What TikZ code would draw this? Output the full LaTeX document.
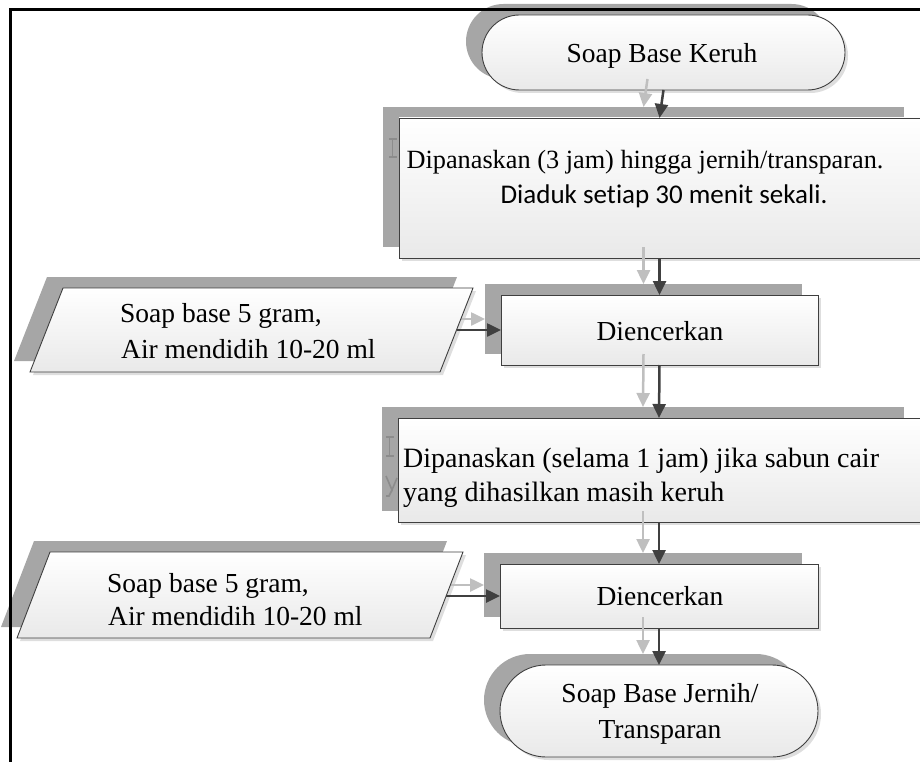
\documentclass[tikz,border=0pt]{standalone}
\usepackage{fontspec}
\setmainfont{Liberation Serif}
\newfontfamily\calibrifont[Ligatures=NoCommon]{Carlito}
\usetikzlibrary{arrows.meta,shapes.misc,calc}
\definecolor{edgec}{HTML}{3F3F3F}
\definecolor{fillbot}{HTML}{E9E9E9}
\definecolor{shadowc}{HTML}{A6A6A6}
\definecolor{glowc}{HTML}{DEDEDE}
\definecolor{arrowc}{HTML}{404040}
\definecolor{sarrowc}{HTML}{BFBFBF}
\definecolor{ghostc}{HTML}{8C8C8C}
\begin{document}
\begin{tikzpicture}[x=1pt,y=-1pt,
  base/.style={inner sep=0pt, outer sep=0pt, line width=0.9pt},
  mainfill/.style={base, draw=edgec, top color=white, bottom color=fillbot},
  shadowfill/.style={base, fill=shadowc, draw=none},
  glowfill/.style={base, fill=glowc, draw=none},
  procbox/.style={rectangle},
  termbox/.style={rounded rectangle},
  arr/.style={draw=arrowc, line width=2.5pt, -{Triangle[length=14pt,width=13pt]}},
  sarr/.style={arr, draw=sarrowc},
  txt/.style={font=\fontsize{27.5}{33}\selectfont, inner sep=0pt, text=black},
  ghoststroke/.style={draw=ghostc, line width=1.6pt},
  framel/.style={line width=3pt, draw=black}
]
\useasboundingbox (0,0) rectangle (920,762);
\clip (0,0) rectangle (920,762);

% ---------- glow layer ----------
\node[glowfill,termbox,minimum width=363pt,minimum height=75pt] at (666.5,55.5) {};
\node[glowfill,procbox,minimum width=521pt,minimum height=140pt] at (662.5,191) {};
\node[glowfill,procbox,minimum width=317pt,minimum height=70pt] at (662.5,333) {};
\node[glowfill,procbox,minimum width=522pt,minimum height=104pt] at (662,473) {};
\node[glowfill,procbox,minimum width=318pt,minimum height=64pt] at (662,599) {};
\node[glowfill,termbox,minimum width=318pt,minimum height=92pt] at (662,714) {};
\fill[glowc] (66,291) -- (476,291) -- (443,375) -- (33,375) -- cycle;
\fill[glowc] (53,555) -- (466,555) -- (433,641) -- (20,641) -- cycle;

% ---------- shadow layer ----------
\node[shadowfill,termbox,minimum width=363pt,minimum height=75pt] at (647.5,41.5) {};
\node[shadowfill,procbox,minimum width=521pt,minimum height=140pt] at (643.5,177) {};
\node[shadowfill,procbox,minimum width=317pt,minimum height=70pt] at (643.5,319) {};
\node[shadowfill,procbox,minimum width=522pt,minimum height=104pt] at (643,459) {};
\node[shadowfill,procbox,minimum width=318pt,minimum height=64pt] at (643,585) {};
\node[shadowfill,termbox,minimum width=318pt,minimum height=92pt] at (643,700) {};
\fill[shadowc] (47,277) -- (457,277) -- (424,361) -- (14,361) -- cycle;
\fill[shadowc] (34,541) -- (447,541) -- (414,627) -- (1,627) -- cycle;
% faint text ghosts peeking out of the shadows
\draw[ghoststroke] (389,139) -- (397,139);
\draw[ghoststroke] (392.5,139) -- (392.5,157);
\draw[ghoststroke] (389,157) -- (397,157);
\draw[ghoststroke] (386,437) -- (394,437);
\draw[ghoststroke] (389.5,437) -- (389.5,456);
\draw[ghoststroke] (386,456) -- (394,456);
\draw[ghoststroke] (386,476) -- (392,490) -- (397,478);
\draw[ghoststroke] (392,490) -- (389,496) -- (386,496);

% ---------- main shapes ----------
\node[mainfill,termbox,minimum width=363pt,minimum height=75pt] (start) at (663.5,52.5) {};
\node[mainfill,procbox,minimum width=521pt,minimum height=140pt] (box1) at (659.5,188) {};
\node[mainfill,procbox,minimum width=317pt,minimum height=70pt] (box2) at (659.5,330) {};
\node[mainfill,procbox,minimum width=522pt,minimum height=104pt] (box3) at (659,470) {};
\node[mainfill,procbox,minimum width=318pt,minimum height=64pt] (box4) at (659,596) {};
\node[mainfill,termbox,minimum width=318pt,minimum height=92pt] (finish) at (659,711) {};

% shadow arrows
\draw[sarr] ($(start.south)+(-16,-11)$) -- ($(box1.north)+(-16,-11)$);
\draw[sarr] ($(box1.south)+(-16,-11)$) -- ($(box2.north)+(-16,-11)$);
\draw[sarr] ($(box2.south)+(-16,-11)$) -- ($(box3.north)+(-16,-11)$);
\draw[sarr] ($(box3.south)+(-16,-11)$) -- ($(box4.north)+(-16,-11)$);
\draw[sarr] ($(box4.south)+(-16,-11)$) -- ($(finish.north)+(-16,-11)$);
\coordinate (in1r) at (456.5,330);
\coordinate (in2r) at (446,596);
\draw[sarr] ($(in1r)+(-16,-11)$) -- ($(box2.west)+(-16,-11)$);
\draw[sarr] ($(in2r)+(-16,-11)$) -- ($(box4.west)+(-16,-11)$);

% parallelograms (main)
\path[draw=edgec, line width=0.9pt, top color=white, bottom color=fillbot]
  (63,288) -- (473,288) -- (440,372) -- (30,372) -- cycle;
\path[draw=edgec, line width=0.9pt, top color=white, bottom color=fillbot]
  (50,552) -- (463,552) -- (430,638) -- (17,638) -- cycle;

% ---------- texts ----------
\node[txt,anchor=base] (tstart) at (662,63) {Soap Base Keruh};
\node[txt,anchor=base,font=\fontsize{26.3}{32}\selectfont] (t1a) at (645,168) {Dipanaskan (3 jam) hingga jernih/transparan.};
\node[txt,anchor=base,font=\calibrifont\fontsize{27}{32}\selectfont] (t1b) at (664,204) {Diaduk setiap 30 menit sekali.};
\node[txt,anchor=base] (t2) at (660,340) {Diencerkan};
\node[txt,anchor=base west,font=\fontsize{28}{33}\selectfont] (t3a) at (403,467) {Dipanaskan (selama 1 jam) jika sabun cair};
\node[txt,anchor=base west,font=\fontsize{28}{33}\selectfont] (t3b) at (403,501) {yang dihasilkan masih keruh};
\node[txt,anchor=base] (t4) at (660,605) {Diencerkan};
\node[txt,anchor=base] (tend1) at (660,702) {Soap Base Jernih/};
\node[txt,anchor=base] (tend2) at (660,738) {Transparan};
\node[txt,anchor=base west] (tp1a) at (120,322) {Soap base 5 gram,};
\node[txt,anchor=base west] (tp1b) at (121,358) {Air mendidih 10-20 ml};
\node[txt,anchor=base west] (tp2a) at (107,592) {Soap base 5 gram,};
\node[txt,anchor=base west] (tp2b) at (108,625) {Air mendidih 10-20 ml};

% ---------- connectors ----------
\draw[arr] (start.south) -- (box1.north);
\draw[arr] (box1.south) -- (box2.north);
\draw[arr] (box2.south) -- (box3.north);
\draw[arr] (box3.south) -- (box4.north);
\draw[arr] (box4.south) -- (finish.north);
\draw[arr] (in1r) -- (box2.west);
\draw[arr] (in2r) -- (box4.west);

% ---------- frame ----------
\draw[framel] (10.5,762) -- (10.5,9.5) -- (920,9.5);
\end{tikzpicture}
\end{document}
